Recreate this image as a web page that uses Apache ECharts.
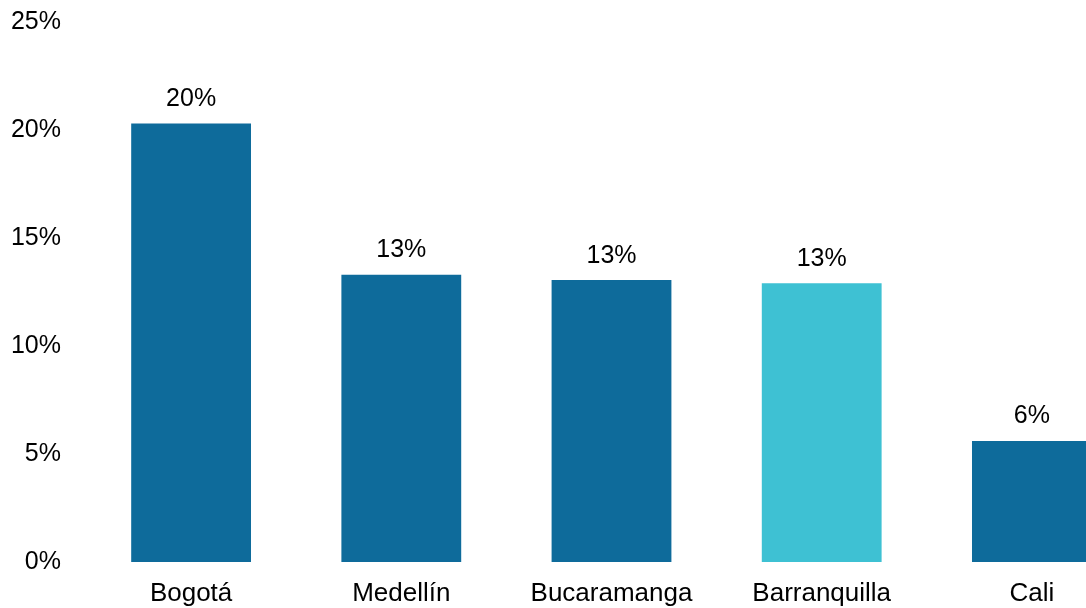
<!DOCTYPE html>
<html>
<head>
<meta charset="utf-8">
<script src="https://cdn.jsdelivr.net/npm/echarts@6/dist/echarts.min.js"></script>
<style>
  html, body { margin: 0; padding: 0; background: #fff; }
  #chart { width: 1086px; height: 608px; }
</style>
</head>
<body>
<div id="chart"></div>
<script>
const cities = ['Bogotá', 'Medellín', 'Bucaramanga', 'Barranquilla', 'Cali']
const shares = [20.3, 13.3, 13.05, 12.9, 5.6]
const highlightCity = 'Barranquilla'

const dark = '#0E6B9B'
const light = '#3EC1D3'

const chart = echarts.init(document.getElementById('chart'))

chart.setOption({
  animation: false,
  // the last category runs past the right edge, as in the original
  grid: { left: 86, top: 22, right: -51, bottom: 46, containLabel: false, outerBoundsMode: 'none' },
  xAxis: {
    type: 'category',
    data: cities,
    axisLine: { show: false },
    axisTick: { show: false },
    axisLabel: { color: '#000', fontFamily: 'Liberation Sans', fontSize: 26, margin: 19, interval: 0 }
  },
  yAxis: {
    type: 'value',
    min: 0,
    max: 25,
    interval: 5,
    splitLine: { show: false },
    axisLine: { show: false },
    axisTick: { show: false },
    axisLabel: {
      color: '#000',
      fontFamily: 'Liberation Sans',
      fontSize: 25,
      margin: 25,
      formatter: v => v + '%'
    }
  },
  series: [{
    type: 'bar',
    barCategoryGap: '43%',
    data: cities.map((c, i) => ({
      value: shares[i],
      itemStyle: { color: c === highlightCity ? light : dark }
    })),
    label: {
      show: true,
      position: 'top',
      distance: 12,
      color: '#000',
      fontFamily: 'Liberation Sans',
      fontSize: 25,
      formatter: p => Math.round(p.value) + '%'
    }
  }]
})
</script>
</body>
</html>
